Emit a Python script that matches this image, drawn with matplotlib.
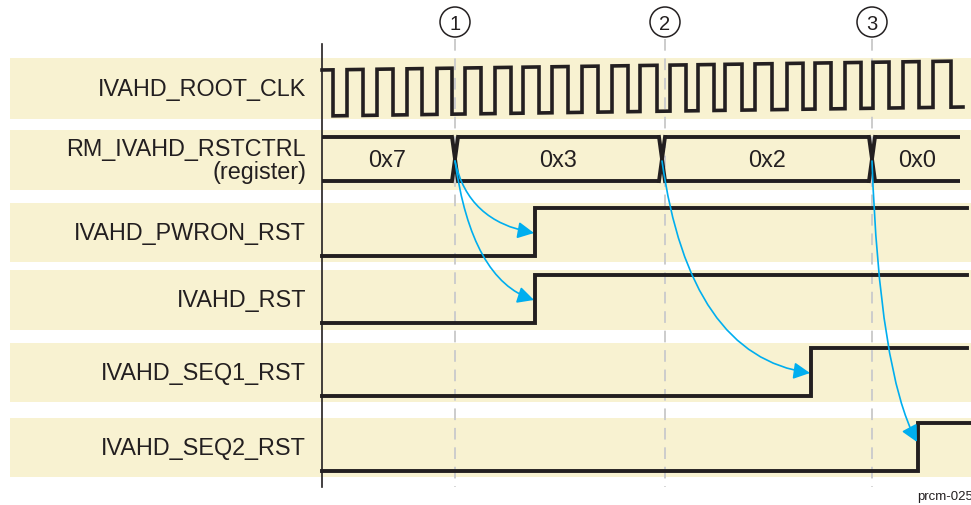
import matplotlib.pyplot as plt
from matplotlib.patches import Rectangle, Circle

plt.rcParams['font.family'] = ['Liberation Sans', 'DejaVu Sans']

# Row labels
labels = ['IVAHD_ROOT_CLK', 'RM_IVAHD_RSTCTRL\n(register)', 'IVAHD_PWRON_RST',
          'IVAHD_RST', 'IVAHD_SEQ1_RST', 'IVAHD_SEQ2_RST']

# Clock edges (time units from the start of the diagram)
clk_rise = [25, 55, 85, 115, 143, 173, 201, 230, 260, 290, 318,
            348, 376, 403, 433, 465, 493, 523, 551, 581, 611]
clk_fall = [11, 41, 71, 100, 130, 159, 189, 217, 246, 276, 306,
            335, 364, 392, 420, 450, 481, 509, 539, 567, 597, 629]
clk_end = 641

# Register contents and the times it changes
reg_values = ['0x7', '0x3', '0x2', '0x0']
reg_changes = [133, 340, 550]
reg_end = 638

# Reset release times (low -> high) and which register change caused them
rst_rise = [213, 213, 489, 596]
rst_end = [645, 645, 645, 652]
rst_cause = [0, 0, 1, 2]

# Numbered reference points
step_names = ['1', '2', '3']
step_times = [133, 343, 550]

# ---- layout (pixels) ----
X0 = 322
band_top = [59, 131, 204, 271, 344, 419]
band_h = [61, 60, 59, 60, 59, 59]
band_col = '#F8F2D1'
ink = '#231F20'
blue = '#00AEEF'
lw_sig = 2.8

fig = plt.figure(figsize=(9.71, 5.06), dpi=100)
ax = fig.add_axes([0, 0, 1, 1])
ax.set_xlim(0, 971)
ax.set_ylim(506, 0)
ax.axis('off')

# bands and labels
for i, lab in enumerate(labels):
    ax.add_patch(Rectangle((10, band_top[i]), 980, band_h[i], color=band_col, lw=0, zorder=0))
    ax.text(306, band_top[i] + band_h[i] / 2, lab, ha='right', va='center',
            fontsize=16.8, color=ink, linespacing=1.05)

# time axis line
ax.plot([X0, X0], [45, 488], color=ink, lw=1.2, zorder=3)

# dashed step markers and circled numbers
for name, t in zip(step_names, step_times):
    ax.plot([X0 + t, X0 + t], [40, 488], color='#CCCCCC', lw=1.4,
            dashes=(6, 4), zorder=1)
    ax.add_patch(Circle((X0 + t, 23), 15, fill=False, ec=ink, lw=1.1, zorder=3))
    ax.text(X0 + t, 24, name, ha='center', va='center', fontsize=14.5, color=ink)

# clock (slightly tilted, like the original drawing)
hi, lo, tilt = 71, 117, -9.0
edges = sorted([(t, 0) for t in clk_fall] + [(t, 1) for t in clk_rise])
xs, ys = [X0], [hi]
level = hi
for t, up in edges:
    new = hi if up else lo
    xs += [X0 + t, X0 + t]
    ys += [level, new]
    level = new
xs.append(X0 + clk_end)
ys.append(level)
ys = [y + tilt * (x - X0) / clk_end for x, y in zip(xs, ys)]
ax.plot(xs, ys, color=ink, lw=2.6, solid_joinstyle='miter', zorder=3)

# register bus
top, bot, hw = 138, 182, 3
starts = [0] + [c + hw for c in reg_changes]
ends = [c - hw for c in reg_changes] + [reg_end]
for v, s, e in zip(reg_values, starts, ends):
    ax.plot([X0 + s, X0 + e], [top, top], color=ink, lw=lw_sig, solid_capstyle='butt', zorder=3)
    ax.plot([X0 + s, X0 + e], [bot, bot], color=ink, lw=lw_sig, solid_capstyle='butt', zorder=3)
    ax.text(X0 + (s + e) / 2, 160, v, ha='center', va='center', fontsize=16.8, color=ink)
for c in reg_changes:
    ax.plot([X0 + c - hw, X0 + c + hw], [top, bot], color=ink, lw=lw_sig, zorder=3)
    ax.plot([X0 + c - hw, X0 + c + hw], [bot, top], color=ink, lw=lw_sig, zorder=3)

# resets
arrow_angles = [(-78, -10), (-82, -18), (-82, -8), (-88, -62)]
for k, (tr, te) in enumerate(zip(rst_rise, rst_end)):
    row = k + 2
    yh = band_top[row] + 5
    yl = band_top[row] + 53
    ax.plot([X0, X0 + tr, X0 + tr, X0 + te], [yl, yl, yh, yh],
            color=ink, lw=lw_sig, solid_joinstyle='miter', zorder=3)
    c = reg_changes[rst_cause[k]]
    aA, aB = arrow_angles[k]
    tip_y = yl - 23 if k < 3 else yl - 29
    ax.annotate('', xy=(X0 + tr - 1, tip_y), xytext=(X0 + c, 162),
                arrowprops=dict(arrowstyle='-|>,head_length=0.55,head_width=0.28',
                                color=blue, lw=1.2, mutation_scale=18,
                                shrinkA=0, shrinkB=0,
                                connectionstyle=f'angle3,angleA={aA},angleB={aB}'),
                zorder=4)

ax.text(917, 497, 'prcm-025', ha='left', va='center', fontsize=9.5, color=ink)

fig.savefig('out.png', dpi=100)
